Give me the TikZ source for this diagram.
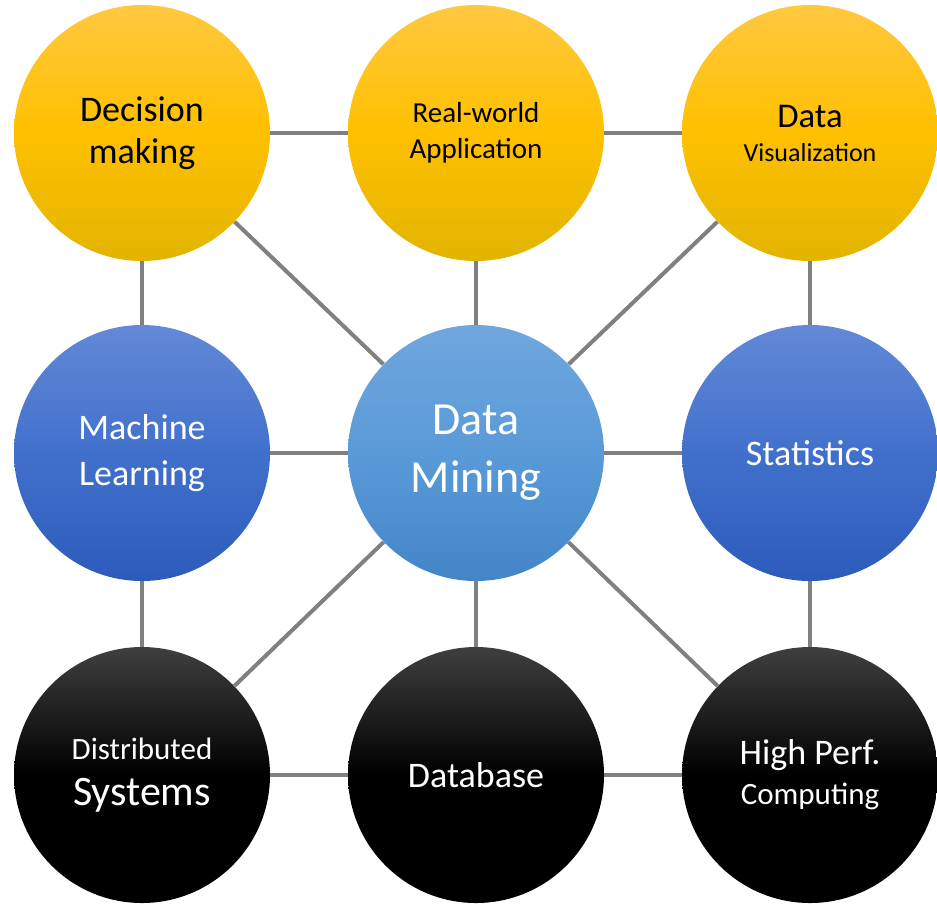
\documentclass[tikz,border=0pt]{standalone}
\usepackage{fontspec}
\setmainfont{Carlito}

\definecolor{goldtop}{HTML}{FFC83F}
\definecolor{goldmid}{HTML}{FFC000}
\definecolor{goldbot}{HTML}{E2B400}
\definecolor{bluetop}{HTML}{6389D7}
\definecolor{bluemid}{HTML}{4170CC}
\definecolor{bluebot}{HTML}{2D5BBB}
\definecolor{skytop}{HTML}{70A7DD}
\definecolor{skymid}{HTML}{5A9AD8}
\definecolor{skybot}{HTML}{4285C8}
\definecolor{darktop}{HTML}{3F3F3F}
\definecolor{linkgray}{HTML}{808080}

\newcommand{\fz}[2]{\fontsize{#1pt}{#2pt}\selectfont}

\begin{document}
\begin{tikzpicture}[x=0.75pt,y=-0.75pt]
\tikzstyle{hub}=[circle,minimum size=192pt,inner sep=0pt,align=center]
\tikzstyle{gold}=[hub,top color=goldtop,bottom color=goldbot,middle color=goldmid,text=black]
\tikzstyle{blue}=[hub,top color=bluetop,bottom color=bluebot,middle color=bluemid,text=white]
\tikzstyle{sky}=[hub,top color=skytop,bottom color=skybot,middle color=skymid,text=white]
\tikzstyle{dark}=[hub,top color=darktop,bottom color=black,middle color=black,text=white]
\tikzstyle{link}=[draw=linkgray,line width=3pt]
\useasboundingbox (0,0) rectangle (937,904);
% top row
\node[gold,font=\fz{27}{31.5}] (dec) at (142,133) {Decision\\making};
\node[gold,font=\fz{21.75}{27}] (app) at (476,133) {Real-world\\Application};
\node[gold,font=\fz{19.5}{25.5}] (vis) at (810,133) {{\fz{26}{26}Data}\\Visualization};
% middle row
\node[blue,font=\fz{27}{34}] (ml) at (142,453) {Machine\\Learning};
\node[sky,font=\fz{34.5}{43.5}] (dm) at (476,453) {Data\\Mining};
\node[blue,font=\fz{27}{32}] (stat) at (810,453) {Statistics};
% bottom row
\node[dark,font=\fz{23.25}{35}] (dist) at (142,775) {Distributed\\{\fz{31.5}{31.5}Systems}};
\node[dark,font=\fz{27}{32}] (db) at (476,775) {Database};
\node[dark,font=\fz{23.25}{30}] (hpc) at (810,775) {{\fz{27}{27}High Perf.}\\Computing};
\foreach \a/\b in {dec/app,app/vis,ml/dm,dm/stat,dist/db,db/hpc,dec/ml,ml/dist,app/dm,dm/db,vis/stat,stat/hpc,dm/dec,dm/vis,dm/dist,dm/hpc}
  \draw[link] (\a) -- (\b);
\end{tikzpicture}
\end{document}
